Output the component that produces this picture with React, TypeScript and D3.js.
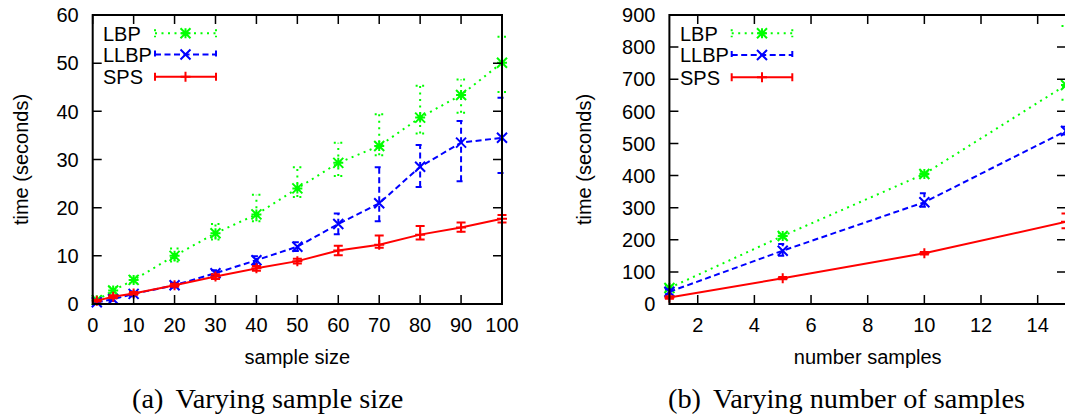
import React from "react";
import * as d3 from "d3";

// ---------- data: panel (a) ----------
const sampleSizes = [1, 5, 10, 20, 30, 40, 50, 60, 70, 80, 90, 100];
const lbpA = [0.8, 2.8, 5.0, 10.0, 14.7, 18.6, 24.0, 29.3, 32.8, 38.7, 43.4, 50.1];
const lbpALo = [0.5, 2.2, 4.3, 8.8, 13.4, 17.2, 22.2, 26.6, 30.9, 35.4, 39.7, 44.0];
const lbpAHi = [1.2, 3.5, 5.7, 11.5, 16.6, 22.7, 28.4, 33.5, 39.4, 45.3, 46.6, 55.5];
const llbpA = [0.35, 1.0, 2.1, 3.9, 6.4, 9.1, 11.9, 16.6, 20.9, 28.5, 33.5, 34.5];
const llbpALo = [0.1, 0.6, 1.6, 3.4, 5.8, 8.3, 11.0, 14.5, 17.2, 24.3, 25.5, 27.2];
const llbpAHi = [0.6, 1.4, 2.6, 4.4, 7.0, 9.9, 12.8, 18.8, 28.4, 33.0, 38.0, 42.8];
const spsA = [0.7, 1.5, 2.2, 3.9, 5.7, 7.4, 8.9, 11.1, 12.3, 14.4, 15.9, 17.7];
const spsALo = [0.5, 1.2, 1.9, 3.6, 5.2, 6.9, 8.4, 10.1, 11.7, 13.4, 15.0, 16.9];
const spsAHi = [0.9, 1.8, 2.5, 4.2, 6.2, 7.9, 9.4, 12.1, 14.2, 16.2, 16.9, 18.5];
const xTicksA = [0, 10, 20, 30, 40, 50, 60, 70, 80, 90, 100];
const yTicksA = [0, 10, 20, 30, 40, 50, 60];

// ---------- data: panel (b) ----------
const numSamples = [1, 5, 10, 15];
const lbpB = [50, 212, 405, 682];
const lbpBLo = [42, 203, 398, 636];
const lbpBHi = [58, 220, 412, 866];
const llbpB = [38, 166, 317, 539];
const llbpBLo = [30, 150, 303, 528];
const llbpBHi = [46, 187, 345, 552];
const spsB = [20, 80, 158, 256];
const spsBLo = [16, 77, 154, 236];
const spsBHi = [24, 84, 162, 282];
const xTicksB = [2, 4, 6, 8, 10, 12, 14];
const yTicksB = [0, 100, 200, 300, 400, 500, 600, 700, 800, 900];

const seriesNames = ["LBP", "LLBP", "SPS"];

const FONT = "'Liberation Sans', Arial, Helvetica, sans-serif";
const SERIF = "'Liberation Serif', 'Times New Roman', Times, serif";
const FS = 20;

const styles = [
  { color: "#00ff00", dash: "2,4.5", marker: "star" },
  { color: "#0000ff", dash: "6,3.5", marker: "cross" },
  { color: "#ff0000", dash: "", marker: "plus" },
];

function markerPath(kind: string, x: number, y: number, s: number) {
  const plus = `M${x - s},${y}H${x + s}M${x},${y - s}V${y + s}`;
  const cross = `M${x - s},${y - s}L${x + s},${y + s}M${x - s},${y + s}L${x + s},${y - s}`;
  if (kind === "plus") return plus;
  if (kind === "cross") return cross;
  return plus + cross;
}

type Series = { v: number[]; lo: number[]; hi: number[] };

function Panel(props: {
  xs: number[];
  series: Series[];
  xDomain: [number, number];
  xRange: [number, number];
  yDomain: [number, number];
  yRange: [number, number];
  xTicks: number[];
  yTicks: number[];
  legendTextX: number;
  legendLine: [number, number];
  legendY: number[];
  yLabelX: number;
  xLabel: string;
  caption: string;
  captionLabel: string;
  captionX: number;
}) {
  const x = d3.scaleLinear().domain(props.xDomain).range(props.xRange);
  const y = d3.scaleLinear().domain(props.yDomain).range(props.yRange);
  const [x0, x1] = props.xRange;
  const [yb, yt] = props.yRange;
  const tl = 9;
  const cap = 4.5;
  const line = d3
    .line<number>()
    .x((_, i) => x(props.xs[i]))
    .y((d) => y(d));
  return (
    <g>
      {props.series.map((s, si) => {
        const st = styles[si];
        return (
          <g key={si} stroke={st.color} fill="none" strokeWidth={2}>
            <path d={line(s.v) || ""} strokeDasharray={st.dash || undefined} />
            {props.xs.map((xv, i) => {
              const px = x(xv);
              const lo = y(s.lo[i]);
              const hi = y(s.hi[i]);
              return (
                <path
                  key={i}
                  d={`M${px},${lo}V${hi}M${px - cap},${lo}H${px + cap}M${px - cap},${hi}H${px + cap}`}
                  strokeDasharray={st.dash || undefined}
                />
              );
            })}
            {props.xs.map((xv, i) => (
              <path key={"m" + i} d={markerPath(st.marker, x(xv), y(s.v[i]), 5)} />
            ))}
          </g>
        );
      })}
      <rect x={x0} y={yt} width={x1 - x0} height={yb - yt} fill="none" stroke="#000" strokeWidth={2} />
      {props.xTicks.map((t) => (
        <g key={"xt" + t}>
          <path d={`M${x(t)},${yb}v${-tl}M${x(t)},${yt}v${tl}`} stroke="#000" strokeWidth={1.5} />
          <text x={x(t)} y={332} textAnchor="middle" fontFamily={FONT} fontSize={FS} fill="#000">
            {t}
          </text>
        </g>
      ))}
      {props.yTicks.map((t) => (
        <g key={"yt" + t}>
          <path d={`M${x0},${y(t)}h${tl}M${x1},${y(t)}h${-tl}`} stroke="#000" strokeWidth={1.5} />
          <text x={x0 - 14} y={y(t)} dy="0.36em" textAnchor="end" fontFamily={FONT} fontSize={FS} fill="#000">
            {t}
          </text>
        </g>
      ))}
      {seriesNames.map((n, i) => {
        const st = styles[i];
        const ly = props.legendY[i];
        const [a, b] = props.legendLine;
        const m = (a + b) / 2;
        return (
          <g key={"lg" + n}>
            <text x={props.legendTextX} y={ly} dy="0.36em" fontFamily={FONT} fontSize={FS} fill="#000">
              {n}
            </text>
            <g stroke={st.color} strokeWidth={2} fill="none">
              <path
                d={`M${a},${ly}H${b}M${a},${ly - 4}V${ly + 4}M${b},${ly - 4}V${ly + 4}`}
                strokeDasharray={st.dash || undefined}
              />
              <path d={markerPath(st.marker, m, ly, 5)} />
            </g>
          </g>
        );
      })}
      <text
        transform={`translate(${props.yLabelX},${(yb + yt) / 2}) rotate(-90)`}
        textAnchor="middle"
        dy="0.36em"
        fontFamily={FONT}
        fontSize={FS}
        fill="#000"
      >
        time (seconds)
      </text>
      <text x={(x0 + Math.min(x1, 1066)) / 2} y={364} textAnchor="middle" fontFamily={FONT} fontSize={FS} fill="#000">
        {props.xLabel}
      </text>
      <text x={props.captionX} y={408} fontFamily={SERIF} fontSize={28.3} fill="#000">
        {props.captionLabel}
        <tspan dx={12}>{props.caption}</tspan>
      </text>
    </g>
  );
}

export default function App() {
  return (
    <svg
      width={1065}
      height={414}
      style={{ position: "absolute", left: 0, top: 0, background: "#fff" }}
    >
      <Panel
        xs={sampleSizes}
        series={[
          { v: lbpA, lo: lbpALo, hi: lbpAHi },
          { v: llbpA, lo: llbpALo, hi: llbpAHi },
          { v: spsA, lo: spsALo, hi: spsAHi },
        ]}
        xDomain={[0, 100]}
        xRange={[92.7, 502]}
        yDomain={[0, 60]}
        yRange={[304, 15]}
        xTicks={xTicksA}
        yTicks={yTicksA}
        legendTextX={103}
        legendLine={[155, 216]}
        legendY={[33.3, 54.5, 76.7]}
        yLabelX={21}
        xLabel="sample size"
        captionLabel="(a)"
        caption="Varying sample size"
        captionX={132}
      />
      <Panel
        xs={numSamples}
        series={[
          { v: lbpB, lo: lbpBLo, hi: lbpBHi },
          { v: llbpB, lo: llbpBLo, hi: llbpBHi },
          { v: spsB, lo: spsBLo, hi: spsBHi },
        ]}
        xDomain={[1, 15]}
        xRange={[669.4, 1066]}
        yDomain={[0, 900]}
        yRange={[304, 15]}
        xTicks={xTicksB}
        yTicks={yTicksB}
        legendTextX={680}
        legendLine={[731.7, 792.3]}
        legendY={[33.3, 55, 77.3]}
        yLabelX={584}
        xLabel="number samples"
        captionLabel="(b)"
        caption="Varying number of samples"
        captionX={668}
      />
    </svg>
  );
}
